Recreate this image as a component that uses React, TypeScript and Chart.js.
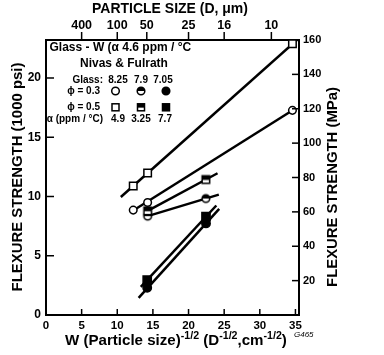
import React, { useEffect, useRef } from "react";
import { Chart, registerables } from "chart.js";

Chart.register(...registerables);

const FAM = "'Liberation Sans', Arial, Helvetica, sans-serif";

// Axis ranges
const xMin = 0;
const xMax = 35.5;
const ksiMax = 23.206; // 160 MPa in 1000 psi
const mpaMax = 160;

// Tick values
const xTicks = [0, 5, 10, 15, 20, 25, 30, 35];
const ksiTicks = [0, 5, 10, 15, 20];
const mpaTicks = [0, 20, 40, 60, 80, 100, 120, 140, 160];
// Top axis: particle size D (µm); position = 100 / sqrt(D)
const particleSizes = [400, 100, 50, 25, 16, 10];

// Legend table
const glassLabels = ["8.25", "7.9", "7.05"];
const alphaLabels = ["4.9", "3.25", "7.7"];

// Data points (x = W (D^-1/2), y = flexure strength in 1000 psi)
const open03X = [12.24, 14.26, 34.58];
const open03Y = [8.85, 9.49, 17.27];
const open05X = [12.24, 14.26, 34.58];
const open05Y = [10.89, 11.99, 22.89];
const half03X = [14.26, 22.43];
const half03Y = [8.34, 9.83];
const half05X = [14.26, 22.43];
const half05Y = [8.79, 11.43];
const full03X = [14.2, 22.45];
const full03Y = [2.3, 7.73];
const full05X = [14.2, 22.45];
const full05Y = [2.95, 8.3];

// Fitted lines
const fitOpen05X = [10.5, 35.2];
const fitOpen05Y = [9.96, 23.2];
const fitOpen03X = [12.24, 35.0];
const fitOpen03Y = [8.82, 17.43];
const fitHalf05X = [14.26, 24.07];
const fitHalf05Y = [8.79, 11.96];
const fitHalf03X = [14.26, 24.25];
const fitHalf03Y = [8.34, 10.16];
const fitFull05X = [13.3, 23.9];
const fitFull05Y = [2.37, 9.24];
const fitFull03X = [13.0, 24.3];
const fitFull03Y = [1.45, 8.95];

const pts = (xs: number[], ys: number[]) => xs.map((x, i) => ({ x, y: ys[i] }));

function makeHalfCircle(r: number) {
  const c = document.createElement("canvas");
  const s = Math.ceil(r * 2 + 4);
  c.width = s;
  c.height = s;
  const g = c.getContext("2d")!;
  const cx = s / 2, cy = s / 2;
  g.beginPath();
  g.arc(cx, cy, r, 0, Math.PI * 2);
  g.fillStyle = "#fff";
  g.fill();
  g.beginPath();
  g.arc(cx, cy, r, Math.PI, 0);
  g.closePath();
  g.fillStyle = "#000";
  g.fill();
  g.beginPath();
  g.arc(cx, cy, r, 0, Math.PI * 2);
  g.lineWidth = 1.5;
  g.strokeStyle = "#000";
  g.stroke();
  return c;
}

function makeHalfSquare(side: number) {
  const c = document.createElement("canvas");
  const s = Math.ceil(side + 4);
  c.width = s;
  c.height = s;
  const g = c.getContext("2d")!;
  const x0 = (s - side) / 2, y0 = (s - side) / 2;
  g.fillStyle = "#fff";
  g.fillRect(x0, y0, side, side);
  g.fillStyle = "#000";
  g.fillRect(x0, y0, side, side * 0.55);
  g.lineWidth = 1.5;
  g.strokeStyle = "#000";
  g.strokeRect(x0, y0, side, side);
  return c;
}

function fitSize(ctx: CanvasRenderingContext2D, text: string, width: number, style: string) {
  ctx.font = `${style} 100px ${FAM}`;
  const w = ctx.measureText(text).width;
  return (100 * width) / w;
}

const decorPlugin = {
  id: "decor",
  afterDraw(chart: any) {
    const ctx: CanvasRenderingContext2D = chart.ctx;
    const { left, right, top, bottom } = chart.chartArea;
    const sx = chart.scales.x, sy = chart.scales.y, sy2 = chart.scales.y2, sx2 = chart.scales.x2;
    ctx.save();
    ctx.strokeStyle = "#000";
    ctx.lineWidth = 1.5;
    // inward ticks
    sy.ticks.forEach((t: any) => {
      if (t.value <= 0) return;
      const y = sy.getPixelForValue(t.value);
      ctx.beginPath(); ctx.moveTo(left, y); ctx.lineTo(left + 8, y); ctx.stroke();
    });
    sy2.ticks.forEach((t: any) => {
      if (t.value <= 0 || t.value >= mpaMax) return;
      const y = sy2.getPixelForValue(t.value);
      ctx.beginPath(); ctx.moveTo(right - 7, y); ctx.lineTo(right, y); ctx.stroke();
    });
    sx.ticks.forEach((t: any) => {
      if (t.value <= 0) return;
      const x = sx.getPixelForValue(t.value);
      ctx.beginPath(); ctx.moveTo(x, bottom); ctx.lineTo(x, bottom - 6); ctx.stroke();
    });
    sx2.ticks.forEach((t: any) => {
      const x = sx2.getPixelForValue(t.value);
      ctx.beginPath(); ctx.moveTo(x, top); ctx.lineTo(x, top - 8); ctx.stroke();
    });

    ctx.fillStyle = "#000";
    ctx.textBaseline = "middle";
    // Top title
    let fs = fitSize(ctx, "PARTICLE SIZE (D, \u03bcm)", 156, "bold");
    ctx.font = `bold ${fs}px ${FAM}`;
    ctx.textAlign = "center";
    ctx.fillText("PARTICLE SIZE (D, \u03bcm)", 170, 9);
    // Left title
    const lt = "FLEXURE STRENGTH (1000 psi)";
    fs = fitSize(ctx, lt, 229, "bold");
    ctx.save();
    ctx.translate(18, 177);
    ctx.rotate(-Math.PI / 2);
    ctx.font = `bold ${fs}px ${FAM}`;
    ctx.fillText(lt, 0, 0);
    ctx.restore();
    // Right title
    const rt = "FLEXURE STRENGTH (MPa)";
    fs = fitSize(ctx, rt, 200, "bold");
    ctx.save();
    ctx.translate(333, 187);
    ctx.rotate(-Math.PI / 2);
    ctx.font = `bold ${fs}px ${FAM}`;
    ctx.fillText(rt, 0, 0);
    ctx.restore();
    // Bottom title with superscripts
    const segs: [string, boolean][] = [
      ["W (Particle size)", false], ["-1/2", true], [" (D", false], ["-1/2", true],
      [",cm", false], ["-1/2", true], [")", false],
    ];
    const base = 13.5, sup = 9.5;
    let total = 0;
    segs.forEach(([t, s]) => {
      ctx.font = `bold ${s ? sup : base}px ${FAM}`;
      total += ctx.measureText(t).width;
    });
    const k = 222 / total;
    let cx = 65;
    ctx.textAlign = "left";
    ctx.textBaseline = "alphabetic";
    segs.forEach(([t, s]) => {
      ctx.font = `bold ${(s ? sup : base) * k}px ${FAM}`;
      ctx.fillText(t, cx, s ? 339 : 345);
      cx += ctx.measureText(t).width;
    });
    // G465
    ctx.font = `italic 8px ${FAM}`;
    ctx.textBaseline = "middle";
    ctx.fillText("G465", 294, 335);

    // Legend block
    fs = fitSize(ctx, "Glass - W (\u03b1 4.6 ppm / \u00b0C", 142, "bold");
    ctx.font = `bold ${fs}px ${FAM}`;
    ctx.textAlign = "left";
    ctx.fillText("Glass - W (\u03b1 4.6 ppm / \u00b0C", 49.5, 47.5);
    fs = fitSize(ctx, "Nivas & Fulrath", 88, "bold");
    ctx.font = `bold ${fs}px ${FAM}`;
    ctx.fillText("Nivas & Fulrath", 80, 63.5);

    ctx.font = `bold 10px ${FAM}`;
    ctx.textAlign = "right";
    ctx.fillText("Glass:", 103, 80);
    ctx.fillText("\u03d5 = 0.3", 100, 91.5);
    ctx.fillText("\u03d5 = 0.5", 100, 107);
    ctx.fillText("\u03b1 (ppm / \u00b0C)", 103, 119.5);
    ctx.textAlign = "center";
    const colX = [118, 141, 165];
    glassLabels.forEach((g, i) => ctx.fillText(g, colX[i] + (i === 2 ? -2 : 0), 80));
    alphaLabels.forEach((a, i) => ctx.fillText(a, colX[i], 119.5));

    // legend symbols
    const symX = [115.5, 141, 166];
    const r = 3.8;
    const side = 7;
    ctx.lineWidth = 1.5;
    symX.forEach((x, i) => {
      const y = 91;
      ctx.beginPath(); ctx.arc(x, y, r, 0, Math.PI * 2);
      ctx.fillStyle = i === 2 ? "#000" : "#fff"; ctx.fill(); ctx.stroke();
      if (i === 1) {
        ctx.beginPath(); ctx.arc(x, y, r, Math.PI, 0); ctx.closePath();
        ctx.fillStyle = "#000"; ctx.fill();
      }
      const ys = 107.3;
      ctx.fillStyle = i === 2 ? "#000" : "#fff";
      ctx.fillRect(x - side / 2, ys - side / 2, side, side);
      ctx.strokeRect(x - side / 2, ys - side / 2, side, side);
      if (i === 1) {
        ctx.fillStyle = "#000";
        ctx.fillRect(x - side / 2, ys - side / 2, side, side * 0.55);
      }
    });
    ctx.restore();
  },
};

export default function App() {
  const ref = useRef<HTMLCanvasElement>(null);
  useEffect(() => {
    document.body.style.margin = "0";
    const halfC = makeHalfCircle(3.8);
    const halfS = makeHalfSquare(7.5);
    const lineDs = (xs: number[], ys: number[]) => ({
      type: "line" as const,
      data: pts(xs, ys),
      borderColor: "#000",
      borderWidth: 2.5,
      pointRadius: 0,
      showLine: true,
      fill: false,
      order: 2,
      xAxisID: "x",
      yAxisID: "y",
    });
    const pointDs = (xs: number[], ys: number[], style: any, bg: string, radius: number) => ({
      type: "scatter" as const,
      data: pts(xs, ys),
      pointStyle: style,
      pointRadius: radius,
      pointBackgroundColor: bg,
      pointBorderColor: "#000",
      pointBorderWidth: 1.5,
      showLine: false,
      order: 1,
      xAxisID: "x",
      yAxisID: "y",
    });
    const tickFont = (size: number) => ({ family: FAM, size, weight: "bold" as const });
    const noGrid = { display: false, drawTicks: false };
    const border = { display: true, width: 2, color: "#000" };
    const chart = new Chart(ref.current!, {
      type: "scatter",
      data: {
        datasets: [
          pointDs(open05X, open05Y, "rect", "#fff", 5.3),
          pointDs(open03X, open03Y, "circle", "#fff", 3.8),
          pointDs(half05X, half05Y, halfS, "#fff", 5),
          pointDs(half03X, half03Y, halfC, "#fff", 4),
          pointDs(full05X, full05Y, "rect", "#000", 5.8),
          pointDs(full03X, full03Y, "circle", "#000", 4.2),
          lineDs(fitOpen05X, fitOpen05Y),
          lineDs(fitOpen03X, fitOpen03Y),
          lineDs(fitHalf05X, fitHalf05Y),
          lineDs(fitHalf03X, fitHalf03Y),
          lineDs(fitFull05X, fitFull05Y),
          lineDs(fitFull03X, fitFull03Y),
        ] as any,
      },
      options: {
        animation: false,
        responsive: false,
        layout: { padding: 0 },
        plugins: { legend: { display: false }, tooltip: { enabled: false } },
        scales: {
          x: {
            type: "linear",
            position: "bottom",
            min: xMin,
            max: xMax,
            grid: noGrid,
            border,
            ticks: { color: "#000", font: tickFont(11.5), padding: 4, maxRotation: 0, autoSkip: false },
            afterBuildTicks: (s: any) => { s.ticks = xTicks.map((v) => ({ value: v })); },
            afterFit: (s: any) => { s.height = 40; },
          },
          x2: {
            type: "linear",
            position: "top",
            min: xMin,
            max: xMax,
            grid: noGrid,
            border,
            ticks: {
              color: "#000",
              font: tickFont(12.5),
              padding: 7,
              maxRotation: 0,
              autoSkip: false,
              callback: (_v: any, i: number) => String(particleSizes[i]),
            },
            afterBuildTicks: (s: any) => {
              s.ticks = particleSizes.map((d) => ({ value: 100 / Math.sqrt(d) }));
            },
            afterFit: (s: any) => { s.height = 40; },
          },
          y: {
            type: "linear",
            position: "left",
            min: 0,
            max: ksiMax,
            grid: noGrid,
            border,
            ticks: { color: "#000", font: tickFont(12), padding: 5, autoSkip: false },
            afterBuildTicks: (s: any) => { s.ticks = ksiTicks.map((v) => ({ value: v })); },
            afterFit: (s: any) => { s.width = 46; },
          },
          y2: {
            type: "linear",
            position: "right",
            min: 0,
            max: mpaMax,
            grid: noGrid,
            border,
            ticks: {
              color: "#000",
              font: tickFont(11),
              padding: 4,
              autoSkip: false,
              callback: (v: any) => (v === 0 ? "" : String(v)),
            },
            afterBuildTicks: (s: any) => { s.ticks = mpaTicks.map((v) => ({ value: v })); },
            afterFit: (s: any) => { s.width = 85; },
          },
        },
      } as any,
      plugins: [decorPlugin],
    });
    return () => chart.destroy();
  }, []);
  return (
    <div style={{ width: 384, height: 355, background: "#fff" }}>
      <canvas ref={ref} width={384} height={355} />
    </div>
  );
}
